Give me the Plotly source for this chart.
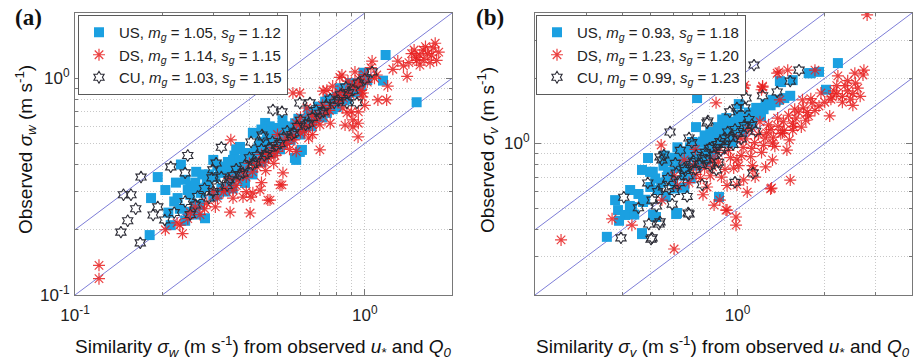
import numpy as np
import plotly.graph_objects as go

# ---------------- data ----------------
# panel (a): sigma_w  (similarity, observed)
a_us = [(0.181,0.189),(0.193,0.35),(0.205,0.305),(0.183,0.28),(0.214,0.21),(0.223,0.33),(0.232,0.40),
        (0.24,0.34),(0.245,0.305),(0.226,0.28),(0.245,0.242),(0.262,0.37),(0.26,0.26),(0.272,0.296),
        (0.281,0.226),(0.285,0.315),(0.316,0.366),(0.337,0.411),(0.351,0.42),(0.357,0.366),(0.371,0.482),
        (0.386,0.452),(0.386,0.329),(0.411,0.56),(0.428,0.467),(0.453,0.622),(0.47,0.60),(0.498,0.59),
        (0.522,0.603),(0.538,0.519),(0.574,0.429),(0.597,0.457),(0.607,0.467),(0.58,0.42),(0.647,0.643),
        (0.657,0.67),(0.74,0.692),(0.745,0.745),(0.80,0.737),(0.82,0.90),(0.85,0.79),(0.868,0.80),
        (0.94,0.865),(0.99,1.06),(1.02,0.98),(1.156,0.975),(1.18,1.28),(1.51,0.775),
        (0.25,0.29),(0.27,0.26),(0.285,0.33),(0.30,0.285),(0.305,0.35),(0.32,0.31),(0.335,0.37),(0.345,0.33),
        (0.36,0.40),(0.375,0.35),(0.39,0.43),(0.405,0.37),(0.42,0.46),(0.44,0.41),(0.455,0.49),(0.475,0.45),
        (0.49,0.53),(0.51,0.47),(0.53,0.57),(0.555,0.52),(0.575,0.62),(0.60,0.55),(0.625,0.64),(0.655,0.60),
        (0.69,0.74),(0.715,0.66),(0.75,0.80),(0.775,0.72),(0.84,0.86),(0.89,0.95),(0.925,0.86),(0.275,0.36),
        (0.31,0.395),(0.355,0.44),(0.435,0.51),(0.465,0.57),(0.33,0.30),(0.38,0.39),(0.41,0.42),(0.50,0.51),
        (0.56,0.58),(0.62,0.61),(0.68,0.69),(0.23,0.25),(0.24,0.22),(0.26,0.235),
        (0.27,0.31),(0.29,0.36),(0.31,0.29),(0.33,0.39),(0.34,0.36),(0.35,0.31),(0.37,0.42),(0.38,0.34),
        (0.40,0.45),(0.41,0.36),(0.43,0.48),(0.45,0.43),(0.46,0.52),(0.48,0.46),(0.50,0.56),(0.52,0.50),
        (0.54,0.60),(0.57,0.55),(0.59,0.65),(0.61,0.59),(0.64,0.70),(0.67,0.65),(0.71,0.70),(0.73,0.78),
        (0.77,0.76),(0.80,0.82),(0.83,0.80),(0.87,0.90),(0.93,0.95),(0.97,0.92),(0.25,0.32),(0.22,0.27),
        (0.21,0.24),(0.36,0.47),(0.44,0.58),(0.52,0.64),(0.30,0.42),(0.26,0.33)]
a_ds = [(0.121,0.137),(0.121,0.119),(0.235,0.192),(0.343,0.241),(0.402,0.239),(0.351,0.28),(0.405,0.283),
        (0.435,0.305),(0.345,0.52),(0.463,0.274),(0.518,0.322),(0.411,0.296),(0.471,0.274),(0.51,0.322),
        (0.522,0.366),(0.70,0.467),(0.834,1.035),(0.855,0.608),(0.91,0.596),(0.948,0.536),(0.74,0.88),
        (0.82,0.855),(0.986,0.855),(0.597,0.855),(0.631,0.729),(0.351,0.305),(0.38,0.283),(1.59,1.35),
        (1.72,1.38),(1.51,1.21),(1.36,1.14),(1.77,1.21),(1.40,1.02),(1.06,1.20),(1.10,1.035),(1.11,0.794),
        (1.20,0.92),(0.91,0.643),(0.868,0.692),(0.718,0.873),(0.962,0.95),(1.19,0.794),(0.82,1.01),
        (0.565,0.855),(1.45,1.30),(1.50,1.25),(1.55,1.28),(1.60,1.22),(1.65,1.30),(1.42,1.18),(1.48,1.35),
        (1.70,1.28),(1.62,1.40),(1.55,1.15),(1.75,1.45),(1.80,1.32),(1.68,1.18),(1.30,1.20),(1.25,1.10),
        (0.205,0.20),(0.225,0.215),(0.245,0.225),(0.26,0.255),(0.285,0.265),(0.30,0.30),(0.325,0.30),
        (0.34,0.345),(0.365,0.34),(0.38,0.37),(0.40,0.405),(0.425,0.39),(0.44,0.445),(0.465,0.43),
        (0.485,0.48),(0.50,0.46),(0.535,0.53),(0.565,0.54),(0.595,0.61),(0.62,0.57),(0.655,0.67),
        (0.68,0.64),(0.715,0.75),(0.755,0.71),(0.79,0.84),(0.845,0.81),(0.905,0.92),(0.955,0.99),
        (1.0,1.04),(1.05,1.12),(0.775,0.92),(0.875,0.97),(0.925,1.07),(0.70,0.61),(0.64,0.53),(0.55,0.47),
        (0.485,0.405),(0.305,0.255),(0.27,0.235),(0.455,0.375),(0.90,0.70),(0.95,0.62),(1.00,0.75),
        (0.95,0.70),(0.58,0.62),
        (0.23,0.21),(0.25,0.24),(0.28,0.25),(0.31,0.28),(0.33,0.31),(0.36,0.32),(0.39,0.35),(0.41,0.37),
        (0.43,0.41),(0.45,0.41),(0.47,0.45),(0.49,0.44),(0.52,0.49),(0.54,0.50),(0.57,0.52),(0.60,0.56),
        (0.63,0.60),(0.66,0.61),(0.69,0.68),(0.73,0.69),(0.76,0.75),(0.81,0.78),(0.86,0.86),(0.89,0.84),
        (0.93,0.92),(0.97,0.88),(1.02,0.96),(1.08,1.00),(0.39,0.30),(0.44,0.33),(0.58,0.46),(0.66,0.55),
        (0.76,0.62),(0.84,0.73),(0.98,0.82),(0.60,0.66),(0.50,0.55)]
a_cu = [(0.169,0.35),(0.147,0.29),(0.156,0.29),(0.162,0.25),(0.152,0.22),(0.144,0.195),(0.168,0.174),
        (0.214,0.39),(0.245,0.44),(0.32,0.48),(0.307,0.406),(0.186,0.234),(0.193,0.255),(0.204,0.222),
        (0.405,0.508),(0.446,0.536),(0.482,0.714),(0.597,0.769),(0.647,0.77),(0.868,0.77),(0.24,0.366),
        (0.518,0.70),(0.94,0.77),(0.442,0.547),(0.299,0.378),(0.297,0.347),
        (0.22,0.24),(0.25,0.235),(0.265,0.285),(0.29,0.28),(0.31,0.315),(0.335,0.32),(0.35,0.355),
        (0.37,0.36),(0.385,0.395),(0.41,0.40),(0.425,0.44),(0.45,0.44),(0.47,0.475),(0.495,0.49),
        (0.525,0.535),(0.56,0.55),(0.585,0.60),(0.625,0.61),(0.66,0.66),(0.70,0.69),(0.735,0.75),
        (0.785,0.77),(0.825,0.84),(0.88,0.86),(0.95,0.95),(1.0,0.99),(1.06,1.07),
        (0.24,0.27),(0.26,0.26),(0.28,0.31),(0.30,0.30),(0.32,0.35),(0.34,0.34),(0.36,0.38),(0.38,0.365),
        (0.40,0.43),(0.42,0.41),(0.44,0.47),(0.46,0.45),(0.48,0.51),(0.51,0.50),(0.54,0.57),(0.57,0.56),
        (0.60,0.64),(0.64,0.62),(0.68,0.71),(0.72,0.70),(0.76,0.80),(0.81,0.79),(0.86,0.91),(0.91,0.88)]

# panel (b): sigma_v  (similarity, observed)
b_us = [(0.354,0.371),(0.378,0.548),(0.426,0.61),(0.387,0.493),(0.409,0.468),(0.472,0.537),(0.468,0.386),
        (0.511,0.469),(0.491,0.857),(0.468,0.755),(0.499,0.74),(0.618,0.478),(0.576,0.731),(0.697,1.016),
        (0.725,1.62),(0.719,1.19),(1.413,1.92),(1.76,2.11),(1.91,2.14),(2.22,2.35),(2.02,1.77),(1.39,1.59),
        (1.79,2.11),(1.40,1.94),(1.55,1.96),(1.32,1.59),(1.19,1.43),(1.08,1.29),(1.52,1.66),(0.468,0.382),
        (0.614,0.473),(0.863,0.567),(0.523,0.458),(0.432,0.509),
        (0.50,0.63),(0.52,0.69),(0.545,0.66),(0.555,0.79),(0.585,0.74),(0.60,0.67),(0.605,0.86),(0.625,0.77),
        (0.64,0.91),(0.655,0.71),(0.665,0.83),(0.685,0.96),(0.70,0.87),(0.725,0.79),(0.735,1.01),(0.755,0.91),
        (0.77,1.09),(0.79,0.97),(0.805,1.13),(0.83,1.04),(0.855,1.19),(0.875,1.09),(0.905,1.23),(0.915,1.31),
        (0.945,1.14),(0.985,1.26),(1.005,1.36),(1.025,1.19),(1.055,1.31),(1.095,1.39),(1.125,1.24),
        (1.16,1.46),(1.205,1.34),(1.25,1.52),(0.455,0.585),(0.425,0.515),(0.565,0.57),(0.655,0.625),
        (0.815,0.89),(0.955,1.01),(1.01,1.52),(0.885,1.29),
        (0.48,0.55),(0.51,0.74),(0.53,0.61),(0.57,0.70),(0.58,0.83),(0.61,0.62),(0.63,0.85),(0.66,0.76),
        (0.67,0.92),(0.69,0.69),(0.71,0.95),(0.74,0.86),(0.76,1.02),(0.78,0.82),(0.81,1.06),(0.84,0.97),
        (0.86,1.14),(0.89,1.02),(0.92,1.18),(0.96,1.08),(0.99,1.22),(1.04,1.13),(1.08,1.27),(1.13,1.33),
        (1.18,1.40),(1.23,1.44),(1.30,1.50),(1.35,1.55),(1.45,1.62),(0.62,0.96),(0.56,0.88),(0.44,0.47),
        (0.39,0.44)]
b_ds = [(0.246,0.359),(0.369,0.449),(0.545,0.984),(0.604,0.326),(0.432,0.42),(0.548,0.548),(2.8,3.92),
        (1.39,2.14),(1.05,1.80),(1.21,1.77),(0.843,1.54),(2.12,1.64),(2.73,2.18),(2.54,2.11),(2.71,2.07),
        (2.22,2.05),(1.85,2.18),(1.49,2.18),(1.37,2.11),(1.22,1.84),(1.06,1.86),(1.81,1.54),(2.08,1.34),
        (1.74,1.39),(1.55,1.24),(1.43,1.12),(1.32,1.005),(1.26,1.12),(1.48,0.933),(1.52,0.678),(1.31,0.623),
        (1.08,0.597),(0.869,0.548),(0.92,0.493),(1.045,1.82),(1.22,1.82),(1.40,1.59),(1.55,1.15),(1.32,0.84),
        (1.13,0.755),(0.995,0.84),(0.822,0.84),(0.995,0.644),(1.30,0.617),(0.988,0.458),(0.988,0.42),
        (0.912,0.493),(0.83,0.52),
        (2.10,1.60),(2.20,1.70),(2.30,1.65),(2.40,1.75),(2.50,1.70),(2.35,1.85),(2.45,1.60),(2.60,1.80),
        (2.55,1.90),(2.20,1.85),(2.30,1.55),(2.65,1.65),(2.40,1.95),(2.15,1.75),(2.50,1.50),
        (0.905,0.76),(0.945,0.86),(1.01,0.79),(1.045,0.96),(1.11,0.87),(1.145,1.01),(1.21,0.91),
        (1.245,1.06),(1.305,1.16),(1.345,0.97),(1.41,1.11),(1.44,1.26),(1.51,1.04),(1.59,1.31),(1.66,1.19),
        (1.69,1.46),(1.76,1.34),(1.79,1.61),(1.91,1.49),(1.94,1.71),(1.095,1.16),(1.195,1.26),(0.855,0.91),
        (0.805,0.71),(0.745,0.69),(0.705,0.79),(0.655,0.84),(0.605,0.71),(0.715,0.94),(0.785,0.63),
        (1.02,1.06),(1.125,0.79),(1.375,1.31),(1.575,1.44),(1.675,1.59),
        (0.62,0.64),(0.68,0.66),(0.72,0.72),(0.77,0.77),(0.82,0.78),(0.86,0.82),(0.88,0.70),(0.93,0.93),
        (0.97,0.77),(1.03,0.88),(1.07,1.05),(1.12,0.95),(1.18,1.10),(1.23,0.98),(1.28,1.22),(1.33,1.07),
        (1.38,1.20),(1.45,1.15),(1.50,1.35),(1.56,1.20),(1.62,1.40),(1.72,1.28),(1.85,1.42),(2.00,1.55),
        (1.15,0.70),(1.25,0.78),(0.92,0.64),(1.05,0.68),(0.76,0.58)]
b_cu = [(0.396,0.367),(0.507,0.367),(0.54,0.435),(0.675,0.478),(0.548,0.84),(0.49,0.658),(0.585,1.13),
        (0.507,0.548),(1.14,2.30),(1.63,2.18),(0.995,1.46),(1.07,1.62),(0.785,1.245),(0.557,0.885),
        (1.06,1.46),(1.22,1.66),(1.52,1.94),(0.503,0.362),(0.68,0.473),(0.494,0.425),(0.536,0.425),
        (0.79,1.27),(0.94,1.40),(1.37,1.73),(0.68,1.06),(0.54,0.867),(0.98,0.662),(1.13,0.731),
        (0.555,0.63),(0.575,0.69),(0.605,0.60),(0.615,0.73),(0.655,0.77),(0.675,0.71),(0.705,0.83),
        (0.715,0.76),(0.755,0.86),(0.775,0.91),(0.805,0.79),(0.815,0.96),(0.855,0.99),(0.875,0.93),
        (0.905,1.06),(0.925,1.13),(0.965,0.99),(1.0,1.11),(1.055,1.21),(1.095,1.29),(1.155,1.14),
        (0.635,0.93),(0.695,1.01),(0.455,0.505),(0.525,0.515),(0.595,0.525),(0.755,0.645),(0.845,0.755),
        (0.405,0.565),
        (0.58,0.62),(0.63,0.66),(0.66,0.75),(0.69,0.80),(0.72,0.88),(0.74,0.80),(0.78,0.84),(0.80,0.95),
        (0.83,0.88),(0.87,1.02),(0.90,0.96),(0.94,1.06),(0.98,1.16),(1.03,1.05),(1.08,1.18),(1.12,1.22),
        (0.61,0.81),(0.53,0.60),(0.67,0.57),(0.86,0.82)]

a_range = (0.1, 2.0)
b_range = (0.2, 4.0)
a_legend = ["US, <i>m</i><sub><i>g</i></sub> = 1.05, <i>s</i><sub><i>g</i></sub> = 1.12",
            "DS, <i>m</i><sub><i>g</i></sub> = 1.14, <i>s</i><sub><i>g</i></sub> = 1.15",
            "CU, <i>m</i><sub><i>g</i></sub> = 1.03, <i>s</i><sub><i>g</i></sub> = 1.15"]
b_legend = ["US, <i>m</i><sub><i>g</i></sub> = 0.93, <i>s</i><sub><i>g</i></sub> = 1.18",
            "DS, <i>m</i><sub><i>g</i></sub> = 1.23, <i>s</i><sub><i>g</i></sub> = 1.20",
            "CU, <i>m</i><sub><i>g</i></sub> = 0.99, <i>s</i><sub><i>g</i></sub> = 1.23"]
ratio_lines = [0.5, 1.0, 2.0]

# ---------------- styling ----------------
W, H = 919, 364
FONT = "Liberation Sans, Arial, sans-serif"
BLUE = "rgb(27,160,225)"
RED = "rgba(232,30,30,0.85)"
DARK = "rgb(45,45,55)"
LINEC = "rgb(125,125,215)"
GRID = "rgb(200,200,200)"
AXC = "rgb(120,120,120)"

fig = go.Figure()

def add_panel(xa, ya, us, ds, cu, rng, names, legend):
    lo, hi = rng
    for k in ratio_lines:
        xs = np.array([lo, hi])
        fig.add_trace(go.Scatter(x=xs, y=xs * k, mode="lines", line=dict(color=LINEC, width=1),
                                 xaxis=xa, yaxis=ya, showlegend=False, hoverinfo="skip"))
    sets = [
        (us, dict(symbol="square", size=10, color=BLUE, line=dict(width=0))),
        (ds, dict(symbol="asterisk-open", size=10, color=RED, line=dict(color=RED, width=1.2))),
        (cu, dict(symbol="hexagram-open", size=9, color=DARK, line=dict(color=DARK, width=1.1))),
    ]
    for (pts, mk), nm in zip(sets, names):
        x = [p[0] for p in pts]
        y = [p[1] for p in pts]
        fig.add_trace(go.Scatter(x=x, y=y, mode="markers", marker=mk, name=nm,
                                 xaxis=xa, yaxis=ya, legend=legend, cliponaxis=True))

add_panel("x", "y", a_us, a_ds, a_cu, a_range, a_legend, "legend")
add_panel("x2", "y2", b_us, b_ds, b_cu, b_range, b_legend, "legend2")

def minor_vals(lo, hi):
    vals = []
    for d in range(-2, 2):
        for m in range(2, 10):
            v = m * 10.0 ** d
            if lo * 0.999 < v < hi * 1.001:
                vals.append(v)
    return vals

def axis(rng, domain, anchor, standoff):
    lo, hi = rng
    majors = [v for v in (0.01, 0.1, 1.0, 10.0) if lo * 0.999 <= v <= hi * 1.001]
    texts = {0.01: "10<sup>-2</sup>", 0.1: "10<sup>-1</sup>", 1.0: "10<sup>0</sup>", 10.0: "10<sup>1</sup>"}
    return dict(type="log", range=[np.log10(lo), np.log10(hi)], domain=domain, anchor=anchor,
                tickvals=majors, ticktext=[texts[v] for v in majors],
                ticks="inside", ticklen=6, tickcolor=AXC, tickwidth=1,
                showline=True, linecolor=AXC, linewidth=1, mirror="ticks",
                showgrid=True, gridcolor=GRID, griddash="1px,2px", gridwidth=1,
                zeroline=False, automargin=False, ticklabelstandoff=standoff,
                minor=dict(tickvals=minor_vals(lo, hi), ticks="inside", ticklen=3, tickcolor=AXC,
                           showgrid=True, gridcolor=GRID, griddash="1px,2px", gridwidth=1),
                tickfont=dict(family=FONT, size=17, color="#222"))

ydom = [1 - 295 / H, 1 - 13 / H]
fig.update_layout(
    width=W, height=H, margin=dict(l=0, r=0, t=0, b=0, autoexpand=False),
    paper_bgcolor="white", plot_bgcolor="white",
    xaxis=axis(a_range, [75 / W, 452 / W], "y", 5),
    yaxis=axis(a_range, ydom, "x", 1),
    xaxis2=axis(b_range, [535 / W, 912 / W], "y2", 5),
    yaxis2=axis(b_range, ydom, "x2", 1),
    legend=dict(x=78 / W, y=1 - 15 / H, xanchor="left", yanchor="top", bgcolor="white",
                bordercolor="rgb(90,90,90)", borderwidth=1,
                font=dict(family=FONT, size=15, color="#222")),
    legend2=dict(x=536 / W, y=1 - 15 / H, xanchor="left", yanchor="top", bgcolor="white",
                 bordercolor="rgb(90,90,90)", borderwidth=1,
                 font=dict(family=FONT, size=15, color="#222")),
    showlegend=True,
)

ann = []
for lab, cx in (("(a)", 28), ("(b)", 490)):
    ann.append(dict(text="<b>" + lab + "</b>", x=cx / W, y=1 - 17 / H, xref="paper", yref="paper",
                    xanchor="center", yanchor="middle", showarrow=False,
                    font=dict(family="Liberation Serif, Times New Roman, serif", size=23, color="#111")))
for sub, cx, ty in (("w", 263, 25), ("v", 723, 487)):
    ann.append(dict(text="Similarity <i>σ</i><sub><i>" + sub + "</i></sub> (m s<sup>-1</sup>) from observed <i>u</i><sub>*</sub> and <i>Q</i><sub><i>0</i></sub>",
                    x=cx / W, y=1 - 346 / H, xref="paper", yref="paper", xanchor="center", yanchor="middle",
                    showarrow=False, font=dict(family=FONT, size=19, color="#111")))
    ann.append(dict(text="Observed <i>σ</i><sub><i>" + sub + "</i></sub> (m s<sup>-1</sup>)",
                    x=ty / W, y=1 - 150 / H, xref="paper", yref="paper", xanchor="center", yanchor="middle",
                    showarrow=False, textangle=-90,
                    font=dict(family=FONT, size=19, color="#111")))
fig.update_layout(annotations=ann)

fig.write_html("out.html")
